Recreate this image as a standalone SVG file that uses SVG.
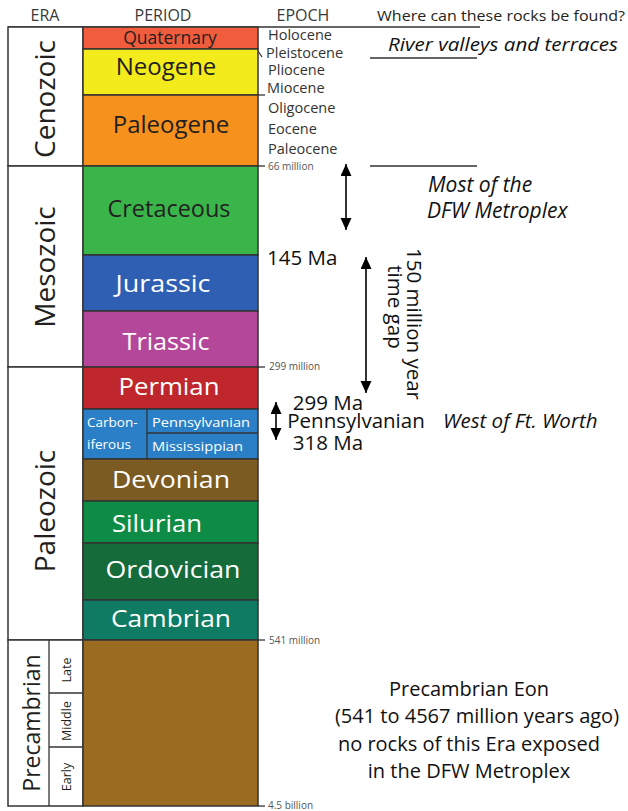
<svg xmlns="http://www.w3.org/2000/svg" width="628" height="811" viewBox="0 0 628 811">
<defs>
<style>
text{font-family:"Open Sans","Noto Sans",sans-serif;fill:#231f20}
.hdr{font-size:16px;fill:#3a3a3a}
.per{font-size:24px;text-anchor:middle}
.w{fill:#ffffff}
.ep{font-size:14.5px;fill:#333}
.sm{font-size:10px;fill:#555}
.era{font-size:28px;text-anchor:middle}
.box{stroke:#333;stroke-width:1.5}
.eb{fill:#ffffff;stroke:#333;stroke-width:1.5}
.ln{stroke:#333;stroke-width:1.3;fill:none}
.ar{stroke:#000;stroke-width:1.6;fill:none;marker-start:url(#ah);marker-end:url(#ah)}
.note{font-size:20.5px;fill:#111}
.it{font-style:italic;font-size:21px;fill:#111}
.pc{font-size:20px;fill:#111;text-anchor:middle}
</style>
<marker id="ah" markerUnits="userSpaceOnUse" markerWidth="11" markerHeight="13" viewBox="0 0 11 13" refX="12" refY="5.5" orient="auto-start-reverse">
<path d="M0,0 L12,5.5 L0,11 z" fill="#000"/>
</marker>
</defs>
<rect width="628" height="811" fill="#ffffff"/>

<g id="header">
<text class="hdr" x="45" y="21" text-anchor="middle">ERA</text>
<text class="hdr" x="163" y="21" text-anchor="middle">PERIOD</text>
<text class="hdr" x="303" y="21" text-anchor="middle">EPOCH</text>
<text x="377" y="21" style="font-size:14.5px" textLength="248" lengthAdjust="spacingAndGlyphs">Where can these rocks be found?</text>
</g>

<g id="connectors">
<line class="ln" x1="8" y1="27" x2="480" y2="27"/>
<line class="ln" x1="370" y1="58" x2="477" y2="58"/>
<line class="ln" x1="370" y1="166" x2="477" y2="166"/>
<line class="ln" x1="258" y1="166" x2="265" y2="166"/>
<line class="ln" x1="258" y1="367" x2="265" y2="367"/>
<line class="ln" x1="258" y1="640" x2="265" y2="640"/>
<line class="ln" x1="258" y1="806" x2="265" y2="806"/>
<line class="ln" x1="258" y1="51" x2="262" y2="57"/>
<line class="ln" x1="258" y1="95" x2="265" y2="95"/>
<line class="ar" x1="346" y1="164" x2="346" y2="230"/>
<line class="ar" x1="366" y1="257" x2="366" y2="393"/>
<line class="ar" x1="276" y1="402" x2="276" y2="440"/>
</g>

<g id="era-cenozoic">
<rect class="eb" x="8" y="27" width="75" height="139"/>
<text class="era" transform="translate(55,99) rotate(-90)">Cenozoic</text>
</g>
<g id="era-mesozoic">
<rect class="eb" x="8" y="166" width="75" height="201"/>
<text class="era" transform="translate(55,267) rotate(-90)">Mesozoic</text>
</g>
<g id="era-paleozoic">
<rect class="eb" x="8" y="367" width="75" height="273"/>
<text class="era" transform="translate(55,511) rotate(-90)">Paleozoic</text>
</g>
<g id="era-precambrian">
<rect class="eb" x="8" y="640" width="75" height="166"/>
<line class="ln" x1="49" y1="640" x2="49" y2="806"/>
<line class="ln" x1="49" y1="693" x2="83" y2="693"/>
<line class="ln" x1="49" y1="747" x2="83" y2="747"/>
<text class="era" style="font-size:23px" transform="translate(40,723) rotate(-90)">Precambrian</text>
<text class="era" style="font-size:12.5px" transform="translate(71,670) rotate(-90)">Late</text>
<text class="era" style="font-size:12.5px" transform="translate(71,721) rotate(-90)">Middle</text>
<text class="era" style="font-size:12.5px" transform="translate(71,777) rotate(-90)">Early</text>
</g>

<g id="quaternary">
<rect class="box" x="83" y="27" width="175" height="22" fill="#f15d3c"/>
<text class="per" x="170" y="44" style="font-size:17.5px">Quaternary</text>
</g>
<g id="neogene">
<rect class="box" x="83" y="49" width="175" height="46" fill="#f3eb1c"/>
<text class="per" x="166" y="75">Neogene</text>
</g>
<g id="paleogene">
<rect class="box" x="83" y="95" width="175" height="71" fill="#f7911e"/>
<text class="per" x="171" y="133">Paleogene</text>
</g>
<g id="cretaceous">
<rect class="box" x="83" y="166" width="175" height="89" fill="#39b54a"/>
<text class="per" x="169" y="217" textLength="123" lengthAdjust="spacingAndGlyphs">Cretaceous</text>
</g>
<g id="jurassic">
<rect class="box" x="83" y="255" width="175" height="56" fill="#2e5fb3"/>
<text class="per w" x="163" y="292" textLength="95" lengthAdjust="spacingAndGlyphs">Jurassic</text>
</g>
<g id="triassic">
<rect class="box" x="83" y="311" width="175" height="56" fill="#b5479b"/>
<text class="per w" x="166" y="350" textLength="87" lengthAdjust="spacingAndGlyphs">Triassic</text>
</g>
<g id="permian">
<rect class="box" x="83" y="367" width="175" height="42" fill="#c0272d"/>
<text class="per w" x="169" y="395" textLength="101" lengthAdjust="spacingAndGlyphs">Permian</text>
</g>
<g id="carboniferous">
<rect class="box" x="83" y="409" width="175" height="50" fill="#2a7fc6"/>
<line class="ln" x1="147" y1="409" x2="147" y2="459"/>
<line class="ln" x1="147" y1="433" x2="258" y2="433"/>
<text class="w" x="87" y="427" style="font-size:13.5px">Carbon-</text>
<text class="w" x="87" y="449" style="font-size:13.5px">iferous</text>
<text class="w" x="152" y="427" style="font-size:13.5px" textLength="98" lengthAdjust="spacingAndGlyphs">Pennsylvanian</text>
<text class="w" x="152" y="451" style="font-size:13.5px" textLength="91" lengthAdjust="spacingAndGlyphs">Mississippian</text>
</g>
<g id="devonian">
<rect class="box" x="83" y="459" width="175" height="42" fill="#7b5b21"/>
<text class="per w" x="171" y="488" textLength="118" lengthAdjust="spacingAndGlyphs">Devonian</text>
</g>
<g id="silurian">
<rect class="box" x="83" y="501" width="175" height="42" fill="#0e8c45"/>
<text class="per w" x="157" y="532" textLength="90" lengthAdjust="spacingAndGlyphs">Silurian</text>
</g>
<g id="ordovician">
<rect class="box" x="83" y="543" width="175" height="57" fill="#166b3a"/>
<text class="per w" x="173" y="578" textLength="135" lengthAdjust="spacingAndGlyphs">Ordovician</text>
</g>
<g id="cambrian">
<rect class="box" x="83" y="600" width="175" height="40" fill="#0e7b62"/>
<text class="per w" x="171" y="627" textLength="120" lengthAdjust="spacingAndGlyphs">Cambrian</text>
</g>
<g id="precambrian">
<rect class="box" x="83" y="640" width="175" height="166" fill="#9c6b22"/>
</g>

<g id="epochs">
<text class="ep" x="268" y="40">Holocene</text>
<text class="ep" x="266" y="58">Pleistocene</text>
<text class="ep" x="268" y="75">Pliocene</text>
<text class="ep" x="267" y="93">Miocene</text>
<text class="ep" x="268" y="113">Oligocene</text>
<text class="ep" x="268" y="134">Eocene</text>
<text class="ep" x="268" y="154">Paleocene</text>
<text class="sm" x="268" y="170">66 million</text>
<text class="sm" x="269" y="370">299 million</text>
<text class="sm" x="269" y="644">541 million</text>
<text class="sm" x="268" y="809">4.5 billion</text>
</g>

<g id="labels">
<text class="it" x="388" y="51" style="font-size:19px" textLength="230" lengthAdjust="spacingAndGlyphs">River valleys and terraces</text>
<text class="it" x="428" y="192">Most of the</text>
<text class="it" x="427" y="218">DFW Metroplex</text>
<text class="note" x="267" y="265">145 Ma</text>
<text class="note" transform="translate(407,324) rotate(90)" text-anchor="middle">150 million year</text>
<text class="note" transform="translate(388,307) rotate(90)" text-anchor="middle">time  gap</text>
<text class="note" x="328" y="410" text-anchor="middle">299 Ma</text>
<text class="note" x="356" y="428" text-anchor="middle">Pennsylvanian</text>
<text class="note" x="328" y="450" text-anchor="middle">318 Ma</text>
<text class="it" x="443" y="428" style="font-size:20.5px">West of Ft. Worth</text>
<text class="pc" x="469" y="696">Precambrian Eon</text>
<text class="pc" x="477" y="723">(541 to 4567 million years ago)</text>
<text class="pc" x="469" y="751">no rocks of this Era exposed</text>
<text class="pc" x="469" y="778">in the DFW Metroplex</text>
</g>
</svg>
